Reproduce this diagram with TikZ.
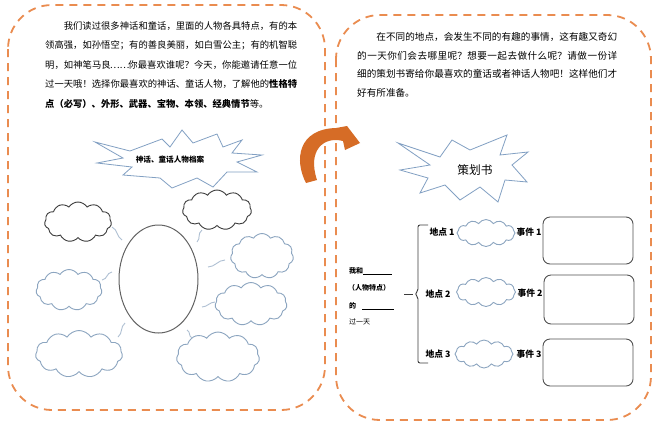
\documentclass[tikz,border=0pt]{standalone}
\usepackage{fontspec}
\setmainfont{Noto Sans CJK SC}
\usetikzlibrary{shapes.symbols,shapes.geometric}
\XeTeXlinebreaklocale "zh"
\XeTeXlinebreakskip=0pt plus 1pt
\definecolor{frameor}{RGB}{234,140,80}
\definecolor{arrowor}{RGB}{214,108,38}
\definecolor{cloudbl}{RGB}{140,165,192}
\definecolor{darkln}{RGB}{60,60,60}
\definecolor{boxln}{RGB}{80,80,80}
\definecolor{starbl}{RGB}{130,160,195}
\begin{document}
\begin{tikzpicture}[x=1pt,y=-1pt,
  frame/.style={draw=frameor, line width=1.8pt, dash pattern=on 8pt off 6pt, rounded corners=44pt},
  bcloud/.style={cloud, cloud puffs=11, cloud puff arc=115, cloud ignores aspect, draw=cloudbl, line width=0.9pt, inner sep=0pt, fill=white},
  dcloud/.style={bcloud, draw=darkln},
  tailln/.style={draw=cloudbl!70, line width=0.9pt},
  para/.style={inner sep=0pt, align=justify, anchor=north west},
  lbl/.style={inner sep=0pt, font=\fontsize{8.8}{10}\selectfont\bfseries},
  smalltxt/.style={inner sep=0pt, anchor=west, font=\fontsize{7}{8}\selectfont},
  evbox/.style={draw=boxln, line width=0.9pt, rounded corners=7pt},
  starln/.style={draw=starbl, line width=0.8pt, fill=white, line join=miter}
]
\useasboundingbox (0,0) rectangle (655,429);
\fill[white] (0,0) rectangle (655,429);

% frames
\draw[frame] (8,5) rectangle (325,410);
\draw[frame] (336,15) rectangle (651,420);

% left paragraph
\node[para, text width=252pt, font=\fontsize{9.3}{19.5}\selectfont] (ltext) at (45,21) {\hspace*{2em}我们读过很多神话和童话，里面的人物各具特点，有的本\linebreak 领高强，如孙悟空；有的善良美丽，如白雪公主；有的机智聪\linebreak 明，如神笔马良\makebox[1.9em]{……}你最喜欢谁呢？今天，你能邀请任意一位\linebreak 过一天哦！选择你最喜欢的神话、童话人物，了解他的{\bfseries 性格特\linebreak 点（必写）、外形、武器、宝物、本领、经典情节}等。};

% right paragraph
\node[para, text width=260pt, font=\fontsize{9.6}{18.8}\selectfont] (rtext) at (357,32) {\hspace*{2em}在不同的地点，会发生不同的有趣的事情，这有趣又奇幻\linebreak 的一天你们会去哪里呢？想要一起去做什么呢？请做一份详\linebreak 细的策划书寄给你最喜欢的童话或者神话人物吧！这样他们才\linebreak 好有所准备。};

% left star
\draw[starln] (95,142) -- (130,151) -- (162,139) -- (170,147) -- (182,130) -- (193,143) -- (217,134) -- (223,147) -- (242,140) -- (232,153) -- (262,155) -- (237,162) -- (257,172) -- (227,172) -- (213,187) -- (197,178) -- (172,188) -- (160,178) -- (123,175) -- (132,167) -- (97,163) -- (123,158) -- cycle;
\node[inner sep=0pt, font=\fontsize{7.6}{9}\selectfont\bfseries] (ltitle) at (170,160) {神话、童话人物档案};

% right star
\draw[starln] (398,143) -- (440,157) -- (452,140) -- (470,150) -- (507,135) -- (500,155) -- (528,152) -- (512,165) -- (527,182) -- (505,180) -- (498,202) -- (480,187) -- (460,200) -- (445,185) -- (420,193) -- (428,178) -- (400,170) -- (430,165) -- cycle;
\node[inner sep=0pt, font=\fontsize{11.7}{13}\selectfont] (rtitle) at (475,170) {策划书};

% curved arrow
\fill[arrowor] (306,183) .. controls (294,160) and (298,129) .. (336,128) -- (347,126) -- (360,143) -- (345,150) -- (343,141) .. controls (324,136) and (307,150) .. (317,180) -- cycle;

% ellipse
\node[ellipse, draw=darkln!80, line width=1pt, minimum width=79pt, minimum height=108pt] (oval) at (158.5,279) {};

% clouds left
\node[dcloud, minimum width=67pt, minimum height=40pt] (c1) at (78,222) {};
\node[dcloud, minimum width=69pt, minimum height=40pt] (c2) at (217,210) {};
\node[bcloud, minimum width=63pt, minimum height=45pt] (c3) at (262,256) {};
\node[bcloud, minimum width=66pt, minimum height=41pt] (c4) at (69,290) {};
\node[bcloud, minimum width=72pt, minimum height=43pt] (c5) at (251,304) {};
\node[bcloud, minimum width=87pt, minimum height=47pt] (c6) at (79,354) {};
\node[bcloud, minimum width=83pt, minimum height=50pt] (c7) at (218,357) {};

% cloud tails
\draw[tailln] (112,227) .. controls (118,230) and (116,236) .. (122,240);
\draw[tailln] (202,230) .. controls (197,234) and (201,238) .. (197,242);
\draw[tailln] (225,260) .. controls (218,260) and (215,267) .. (208,267);
\draw[tailln] (112,272) .. controls (106,273) and (108,279) .. (102,280);
\draw[tailln] (215,302) .. controls (210,302) and (207,307) .. (202,307);
\draw[tailln] (125,323) .. controls (120,327) and (123,333) .. (118,337);
\draw[tailln] (187,330) .. controls (191,332) and (188,336) .. (192,338);

% right section
\node[smalltxt, font=\fontsize{7}{8}\selectfont\bfseries] (t1) at (349,271) {我和\rule[-1.5pt]{29pt}{0.6pt}};
\node[smalltxt, font=\fontsize{7}{8}\selectfont\bfseries] (t2) at (348,288) {（人物特点）};
\node[smalltxt, font=\fontsize{7}{8}\selectfont\bfseries] (t3) at (349,306) {的\hspace{6pt}\rule[-1.5pt]{32pt}{0.6pt}};
\node[smalltxt] (t4) at (349,322) {过一天};

% brace
\coordinate (bt) at (428,225);
\coordinate (bb) at (428,363);
\coordinate (bm) at (415,294);
\coordinate (bd) at (404,294);
\draw[darkln, line width=0.9pt, rounded corners=2pt] (bt) -- (418,225) -- (418,291) -- (bm) -- (418,297) -- (418,363) -- (bb);
\draw[darkln, line width=0.9pt] (bd) -- (413,294);

\node[lbl] (p1) at (442,232) {地点 1};
\node[lbl] (p2) at (438,294) {地点 2};
\node[lbl] (p3) at (438,354) {地点 3};

\node[bcloud, cloud puffs=12, minimum width=58pt, minimum height=27pt] (sA) at (486,233) {};
\node[bcloud, cloud puffs=12, minimum width=59pt, minimum height=29pt] (sB) at (486,292) {};
\node[bcloud, cloud puffs=12, minimum width=58pt, minimum height=28pt] (sC) at (484,354) {};

\node[lbl] (e1) at (529,232) {事件 1};
\node[lbl] (e2) at (530,293) {事件 2};
\node[lbl] (e3) at (529,354) {事件 3};

\draw[evbox] (543,217) rectangle (633,264);
\draw[evbox] (544,275) rectangle (634,324);
\draw[evbox] (543,339) rectangle (633,386);
\end{tikzpicture}
\end{document}
